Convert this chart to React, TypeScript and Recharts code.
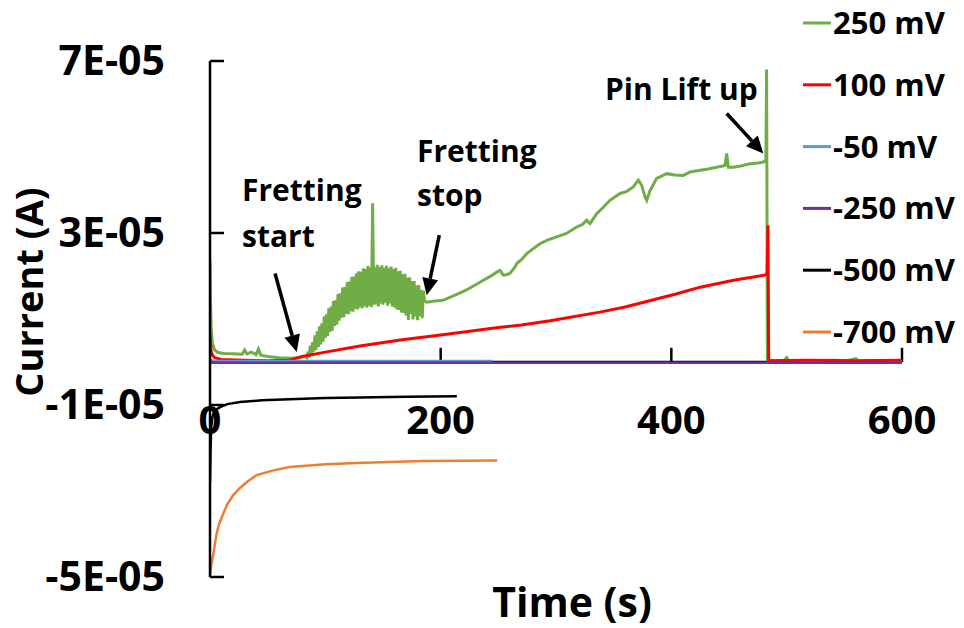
import React from 'react';
import { LineChart, Line, XAxis, YAxis, ReferenceLine } from 'recharts';

const FONT = '"Open Sans", "Liberation Sans", sans-serif';

const seriesNames = ['250 mV', '100 mV', '-50 mV', '-250 mV', '-500 mV', '-700 mV'];
const seriesColors = ['#70AD47', '#FF0000', '#5B9BD5', '#7030A0', '#000000', '#ED7D31'];
const seriesWidths = [3, 3, 2, 2.5, 2.5, 2.5];

const xTicks = [0, 200, 400, 600];
const xTickLabels = ['0', '200', '400', '600'];
const yTicks = [-50, -10, 30, 70];
const yTickLabels = ['-5E-05', '-1E-05', '3E-05', '7E-05'];

// [time (s), current (µA)]
const s250: [number, number][] = [
  [0, 24], [0.4, 15], [1, 8], [2, 4.5], [4, 2.8], [7, 2.2], [12, 2.0], [20, 1.9], [28, 1.8],
  [30, 2.8], [32, 1.9], [36, 2.3], [40, 1.7], [42, 3.0], [44, 1.6], [50, 1.3], [60, 1.0],
  [70, 0.9], [78, 1.0], [82, 1.3],
  [84, 1.0], [85, 2.4], [86, 1.1], [87, 3.8], [88, 1.9], [89, 4.6], [90, 2.4], [91, 6.2],
  [92, 2.9], [93, 7.1], [94, 3.5], [95, 8.3], [96, 4.1], [97, 9.0], [98, 4.7], [99, 10.6],
  [100, 5.6], [101, 11.1], [102, 6.0], [103, 12.5], [104, 7.0], [105, 12.9], [106, 7.3],
  [107, 14.2], [108, 8.4], [109, 14.4], [110, 8.7], [111, 15.8], [112, 9.6], [113, 16.0],
  [114, 10.3], [115, 17.3], [116, 10.4], [117, 17.5], [118, 11.2], [119, 18.6], [120, 11.1],
  [121, 18.7], [122, 11.8], [123, 19.8], [124, 11.7], [125, 19.9], [126, 12.4], [127, 20.6],
  [128, 12.2], [129, 21.1], [130, 12.7], [131, 21.0], [132, 12.5], [133, 21.8], [134, 13.0],
  [135, 21.6], [136, 12.6], [137, 22.3], [138, 13.1], [139, 21.9], [140, 12.8], [141, 36.9],
  [142, 13.3], [143, 22.0], [144, 13.4], [145, 22.6], [146, 12.9], [147, 22.1], [148, 13.6],
  [149, 22.5], [150, 13.3], [151, 21.9], [152, 13.8], [153, 22.4], [154, 13.1], [155, 21.8],
  [156, 13.6], [157, 22.2], [158, 12.9], [159, 21.6], [160, 12.7], [161, 21.9], [162, 12.2],
  [163, 21.1], [164, 12.1], [165, 21.2], [166, 11.5], [167, 20.4], [168, 11.4], [169, 20.5],
  [170, 10.8], [171, 19.6], [172, 9.8], [173, 19.7], [174, 11.2], [175, 18.8], [176, 9.9],
  [177, 18.8], [178, 10.6], [179, 17.8], [180, 9.7], [181, 17.9], [182, 10.7], [183, 16.8],
  [184, 10.2], [185, 16.6], [186, 14.2],
  [188, 13.9], [195, 14.2], [202, 14.35], [212, 15.5], [222, 16.7], [230, 17.9], [237, 19.0],
  [243, 19.9], [248.6, 20.9], [251.5, 21.3], [254.3, 20.2], [257, 20.3], [260, 20.6],
  [264.5, 22.1], [266, 22.9], [270, 23.8], [274.6, 25.2], [280, 26.3], [286, 27.5],
  [293, 28.4], [300.6, 29.1], [309, 29.9], [318, 31.4], [323, 32.0], [326.6, 33.0],
  [329.5, 32.2], [335.3, 34.5], [341, 36.0], [346.8, 37.6], [355.5, 39.2], [361, 39.6],
  [367, 40.7], [371.4, 42.3], [374.3, 41.1], [377.2, 38.4], [378.7, 37.6], [381.6, 39.9],
  [387.3, 42.7], [396, 43.8], [403, 43.5], [410.4, 43.4], [416.2, 44.2], [424.9, 44.6],
  [432, 44.9], [439.3, 45.3], [446.5, 45.7], [448, 48.5], [449.4, 45.3], [453.8, 45.3],
  [460, 45.6], [468.2, 46.1], [475, 46.3], [479.8, 46.5], [482, 46.9], [482.6, 68.0],
  [483.3, 0.5], [490, 0.3], [498, 0.4], [500, 1.0], [502, 0.3], [520, 0.3], [540, 0.4],
  [552, 0.3], [560, 0.8], [562, 0.3], [580, 0.3], [600, 0.3],
];

const s100: [number, number][] = [
  [0, 6.5], [0.5, 4.0], [1, 2.6], [2, 1.6], [4, 1.0], [10, 0.6], [30, 0.4], [50, 0.3],
  [69, 0.4], [80, 1.3], [100, 2.3], [130, 3.7], [165, 5.1], [200, 6.3], [250, 8.0],
  [270, 8.6], [295, 9.6], [338, 11.6], [360, 12.8], [382, 14.3], [404, 15.8], [425, 17.4],
  [454, 19.0], [481, 20.2], [483, 20.4], [483.8, 31.8], [484.4, 0.3], [520, 0.4], [560, 0.3],
  [600, 0.4],
];

const sM50: [number, number][] = [[0, 0.6], [3, 0.3], [245, 0.3]];

const sM250: [number, number][] = [[0, -0.2], [600, -0.2]];

const sM500: [number, number][] = [
  [0, -28], [0.5, -20], [1, -15.5], [2, -12.8], [4, -11.3], [8.7, -10.5], [15, -9.8],
  [26, -9.3], [45, -8.9], [69, -8.67], [100, -8.4], [130, -8.25], [170, -8.1], [214, -7.98],
];

const sM700: [number, number][] = [
  [0, -49.5], [0.5, -48.6], [1, -47.5], [2, -46.0], [3, -44.5], [4.3, -42.3], [5.8, -39.8],
  [8, -37.6], [11.6, -35.2], [15, -33.1], [20, -31.0], [26, -29.3], [32, -27.9],
  [40.5, -26.3], [55, -25.2], [69, -24.4], [100, -23.8], [127, -23.5], [185, -23.0],
  [249, -22.9],
];

const allSeries = [s250, s100, sM50, sM250, sM500, sM700];

// annotation arrows: [tail, head] in (time, µA)
const arrowStart = [{ x: 56.4, y: 20.6 }, { x: 75.2, y: 2.3 }];
const arrowStop = [{ x: 198.8, y: 29.5 }, { x: 187.9, y: 15.5 }];
const arrowPin = [{ x: 448, y: 57.8 }, { x: 479.8, y: 48.5 }];
const arrows = [arrowStart, arrowStop, arrowPin];

// x tick marks drawn at the zero line
const xTickMarkLen = 3.3;

const toData = (pts: [number, number][]) => pts.map(([t, v]) => ({ t, v }));

const ArrowShape = (props: any) => {
  const { x1, y1, x2, y2 } = props;
  const ang = Math.atan2(y2 - y1, x2 - x1);
  const len = 17;
  const hw = 8;
  const bx = x2 - Math.cos(ang) * len;
  const by = y2 - Math.sin(ang) * len;
  const px = -Math.sin(ang) * hw;
  const py = Math.cos(ang) * hw;
  return (
    <g>
      <line x1={x1} y1={y1} x2={bx} y2={by} stroke="#000" strokeWidth={3.5} />
      <polygon points={`${x2},${y2} ${bx + px},${by + py} ${bx - px},${by - py}`} fill="#000" />
    </g>
  );
};

const YTick = (props: any) => {
  const { x, y, payload } = props;
  const idx = yTicks.indexOf(payload.value);
  return (
    <g>
      <text x={x} y={y} dy={14} textAnchor="end" fontSize={41} fontWeight={700} fill="#000" fontFamily={FONT}>
        {yTickLabels[idx]}
      </text>
      <line x1={x + 45} x2={x + 59} y1={y} y2={y} stroke="#000" strokeWidth={2.5} />
    </g>
  );
};

const XTick = (props: any) => {
  const { x, y, payload } = props;
  const idx = xTicks.indexOf(payload.value);
  return (
    <text x={x} y={y} dy={-143} textAnchor="middle" fontSize={40} fontWeight={700} fill="#000" fontFamily={FONT}>
      {xTickLabels[idx]}
    </text>
  );
};

export default function App() {
  return (
    <div style={{ position: 'absolute', left: 0, top: 0, width: 964, height: 628, background: '#fff', fontFamily: FONT }}>
      <LineChart width={964} height={628} margin={{ top: 61, right: 62, left: 0, bottom: 0 }}>
        <XAxis
          dataKey="t"
          type="number"
          domain={[0, 600]}
          ticks={xTicks}
          interval={0}
          height={51}
          axisLine={false}
          tickLine={false}
          tickSize={0}
          tickMargin={0}
          tick={<XTick />}
          allowDataOverflow
        />
        <YAxis
          type="number"
          domain={[-50, 70]}
          ticks={yTicks}
          interval={0}
          width={210}
          tickSize={0}
          tickMargin={45}
          tickLine={false}
          axisLine={{ stroke: '#000', strokeWidth: 2.5 }}
          tick={<YTick />}
          allowDataOverflow
        />
        <ReferenceLine y={0} stroke="#000" strokeWidth={2.5} />
        {xTicks.slice(1).map((xv) => (
          <ReferenceLine
            key={'xt' + xv}
            segment={[{ x: xv, y: 0 }, { x: xv, y: xTickMarkLen }]}
            stroke="#000"
            strokeWidth={2.5}
          />
        ))}
        {allSeries.map((s, i) => (
          <Line
            key={seriesNames[i]}
            data={toData(s)}
            dataKey="v"
            name={seriesNames[i]}
            type="linear"
            stroke={seriesColors[i]}
            strokeWidth={seriesWidths[i]}
            dot={false}
            activeDot={false}
            isAnimationActive={false}
          />
        ))}
        {arrows.map((a, i) => (
          <ReferenceLine key={'ar' + i} segment={a} shape={<ArrowShape />} />
        ))}
      </LineChart>
      <svg width={964} height={628} style={{ position: 'absolute', left: 0, top: 0, pointerEvents: 'none' }}>
        <g fontFamily={FONT} fontWeight={700} fill="#000">
          <text x={572} y={617} fontSize={41} textAnchor="middle">Time (s)</text>
          <text x={43} y={292} fontSize={38} textAnchor="middle" transform="rotate(-90 43 292)">Current (A)</text>
          <text x={242} y={201} fontSize={30}>Fretting</text>
          <text x={242} y={247} fontSize={30}>start</text>
          <text x={417} y={162} fontSize={30}>Fretting</text>
          <text x={417} y={206} fontSize={30}>stop</text>
          <text x={605} y={100} fontSize={30}>Pin Lift up</text>
          {seriesNames.map((n, i) => {
            const cy = 23 + i * 61.8;
            return (
              <g key={'lg' + i}>
                <line x1={803} x2={831} y1={cy} y2={cy} stroke={seriesColors[i]} strokeWidth={3} />
                <text x={833} y={cy + 11} fontSize={31}>{n}</text>
              </g>
            );
          })}
        </g>
      </svg>
    </div>
  );
}
